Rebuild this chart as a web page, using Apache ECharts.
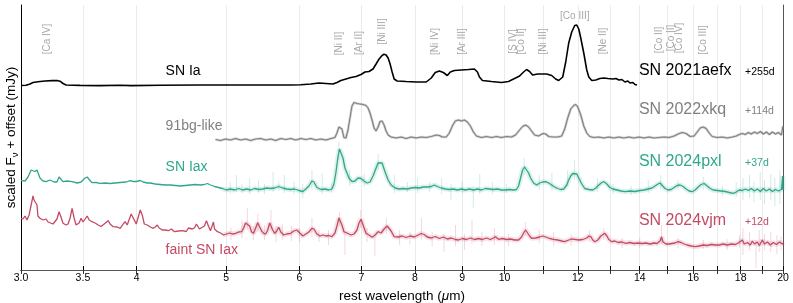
<!DOCTYPE html>
<html><head><meta charset="utf-8">
<script src="https://cdn.jsdelivr.net/npm/echarts@6/dist/echarts.min.js"></script>
<style>html,body{margin:0;padding:0;background:#fff}#c{width:793px;height:303px}</style>
</head><body><div id="c"></div>
<script>
// ---- axis ticks (µm) ----
const tickValues = [3,3.5,4,5,6,7,8,9,10,11,12,13,14,15,16,17,18,19,20];
const labelValues = [3,3.5,4,5,6,7,8,9,10,12,14,16,18,20];
const labelTexts  = ['3.0','3.5','4','5','6','7','8','9','10','12','14','16','18','20'];

// ---- spectra: [rest wavelength (µm), scaled flux + offset] ----
const sn2021aefx = [[3.000,184.5],[3.038,184.7],[3.068,186],[3.091,187.5],[3.129,188.2],[3.185,189],[3.241,189.4],[3.281,189.5],[3.306,188.8],[3.331,186.5],[3.356,185],[3.475,184.6],[3.653,184.4],[3.840,184.7],[3.947,184.4],[4.243,184.8],[4.689,185],[5.314,185],[5.872,185],[6.021,185.3],[6.174,186],[6.298,187],[6.409,186.5],[6.522,186],[6.588,187.5],[6.653,189.5],[6.737,191],[6.822,192.5],[6.908,193.5],[6.995,195.5],[7.064,198],[7.135,198.5],[7.207,201],[7.262,206],[7.316,211],[7.371,214.5],[7.408,215.7],[7.445,215],[7.483,212],[7.520,206],[7.558,198],[7.596,191],[7.653,189],[7.826,188.5],[8.025,188],[8.228,188],[8.331,192],[8.415,197.5],[8.500,199],[8.585,197.5],[8.671,194.5],[8.736,198],[8.824,199.5],[8.980,200],[9.138,200.5],[9.276,201],[9.346,198],[9.393,193],[9.463,189.5],[9.679,188.5],[9.923,187.5],[10.098,188.5],[10.225,191],[10.380,194],[10.484,198],[10.563,200.5],[10.642,198.5],[10.722,195],[10.857,196],[11.104,196],[11.244,194.5],[11.356,191],[11.442,189.5],[11.557,193],[11.644,208],[11.731,227],[11.819,238],[11.908,244.5],[11.968,245],[12.028,241],[12.088,232],[12.179,217],[12.270,200],[12.332,193],[12.425,189.5],[12.550,190],[12.676,191.5],[12.803,192],[12.932,191.5],[12.996,192.5],[13.094,191],[13.193,191.5],[13.292,190],[13.392,190.5],[13.493,188],[13.594,189],[13.662,187],[13.765,187.5],[13.834,185.5],[13.903,185]];

const sn2022xkq = [[4.869,130.5],[4.930,129.5],[4.992,131],[5.054,130],[5.118,131.5],[5.183,130],[5.248,131],[5.314,129.5],[5.381,131],[5.448,131.5],[5.517,130],[5.586,131],[5.657,129.5],[5.728,131.5],[5.800,130.5],[5.872,131.5],[5.946,130],[6.021,131.5],[6.097,130.5],[6.174,131.5],[6.251,130],[6.330,131],[6.409,130],[6.490,131.5],[6.555,132.5],[6.588,137],[6.621,143],[6.645,144],[6.670,141],[6.703,132.5],[6.737,132],[6.771,140],[6.805,152],[6.839,164],[6.873,167.5],[6.925,166.5],[6.977,166],[7.030,165.5],[7.082,164.5],[7.118,162],[7.153,157],[7.189,150],[7.226,142],[7.262,139],[7.298,143],[7.334,148.5],[7.371,149],[7.408,145],[7.445,139],[7.483,135],[7.539,133],[7.634,132],[7.729,133],[7.826,131.5],[7.925,133],[8.025,132],[8.126,133],[8.228,132.5],[8.331,133.5],[8.436,135],[8.500,134.5],[8.563,133],[8.649,133],[8.714,137],[8.780,144],[8.846,149],[8.912,150],[8.980,149],[9.047,150],[9.115,148],[9.184,144],[9.253,138],[9.323,134],[9.440,132.5],[9.558,133.5],[9.679,132.5],[9.800,133.5],[9.923,132.5],[10.048,133.5],[10.174,133],[10.276,135],[10.380,140],[10.458,143.5],[10.537,145],[10.616,143],[10.695,139],[10.776,135],[10.885,134],[10.994,136.5],[11.077,136],[11.160,133.5],[11.272,133],[11.413,133],[11.528,134],[11.615,141],[11.702,152],[11.790,161],[11.878,164.5],[11.938,165.5],[11.998,163],[12.088,155],[12.179,144],[12.270,137],[12.363,133.5],[12.487,132.5],[12.644,133],[12.803,132],[12.964,133],[13.127,132],[13.292,133],[13.459,132],[13.628,133],[13.799,132],[13.973,133],[14.148,132],[14.326,133],[14.506,132],[14.688,132.5],[14.873,133],[15.060,132.5],[15.250,134],[15.403,136],[15.557,137.5],[15.713,136.5],[15.871,133.5],[16.031,134],[16.152,138],[16.273,142],[16.395,143],[16.518,141.5],[16.643,137],[16.768,133.5],[16.978,132.5],[17.192,133],[17.408,132],[17.627,133],[17.804,134],[17.937,135.5],[18.073,136.5],[18.209,135.5],[18.346,137.5],[18.484,136],[18.623,138],[18.763,136.5],[18.904,138.5],[19.046,136],[19.189,138],[19.334,135.5],[19.479,138],[19.626,136],[19.773,137.5],[19.922,135],[19.975,137],[19.995,144]];

const sn2024pxl = [[3.000,89.3],[3.030,89],[3.053,93],[3.076,100],[3.091,102],[3.106,98.5],[3.122,100],[3.145,92],[3.169,89],[3.193,88.3],[3.225,90],[3.257,88],[3.281,88],[3.298,93],[3.314,91],[3.331,88.3],[3.364,89],[3.407,88.3],[3.450,87],[3.484,88],[3.519,92],[3.537,93],[3.555,90.5],[3.581,87.3],[3.617,87.5],[3.653,86.7],[3.699,87],[3.745,86.5],[3.792,87],[3.840,87.5],[3.898,88],[3.937,89.3],[3.967,88.5],[3.997,88.5],[4.037,89.5],[4.067,88],[4.108,87],[4.139,87],[4.191,86],[4.243,85.5],[4.297,85],[4.351,85],[4.406,84.5],[4.461,84],[4.517,84.5],[4.573,85],[4.631,85.5],[4.654,86.5],[4.689,85],[4.736,85.5],[4.772,86.5],[4.808,85],[4.857,83.5],[4.906,82.5],[4.955,81.5],[5.004,80],[5.054,81],[5.105,80],[5.157,81.5],[5.209,80],[5.261,81],[5.314,80],[5.367,81.5],[5.421,80.5],[5.476,81],[5.531,82],[5.586,81.5],[5.642,82],[5.699,83.5],[5.756,82],[5.814,81],[5.872,80.5],[5.931,81],[5.991,79.5],[6.051,78.5],[6.097,81],[6.143,84],[6.189,89],[6.220,88],[6.267,82.5],[6.330,80.5],[6.393,81],[6.457,80],[6.506,81],[6.539,86],[6.572,98],[6.604,113],[6.629,121],[6.653,120.5],[6.687,112],[6.720,102],[6.754,97],[6.788,92],[6.839,88.3],[6.890,89],[6.942,92],[6.995,91.5],[7.047,89],[7.100,87],[7.153,88],[7.207,94],[7.262,102],[7.298,107],[7.334,108.5],[7.371,107],[7.427,98],[7.483,90],[7.539,85],[7.615,82],[7.691,81],[7.768,81.5],[7.846,81],[7.925,82],[8.005,82.5],[8.085,82],[8.167,83],[8.248,83],[8.331,83.5],[8.394,85],[8.457,83.5],[8.542,82],[8.628,81],[8.714,80.5],[8.802,81],[8.890,80],[8.980,81],[9.070,80],[9.161,81],[9.253,80],[9.346,81],[9.440,80],[9.535,81.5],[9.630,81],[9.727,80.5],[9.825,81],[9.923,80],[10.023,80],[10.123,80.5],[10.225,80],[10.302,80.5],[10.354,84],[10.406,92],[10.458,100],[10.511,103],[10.563,101],[10.616,97],[10.669,92],[10.749,87],[10.830,85],[10.912,87],[10.994,88],[11.077,88.3],[11.160,87],[11.244,85],[11.328,83],[11.413,81.5],[11.499,80.5],[11.586,81],[11.673,85],[11.731,90],[11.790,94],[11.849,96.5],[11.908,97],[11.968,96],[12.028,92],[12.119,86],[12.210,81.5],[12.332,80.5],[12.456,80],[12.550,82],[12.644,85],[12.739,87.5],[12.803,88.3],[12.900,86],[12.996,82.5],[13.094,81],[13.226,80],[13.359,79],[13.493,78.3],[13.662,79],[13.834,78.5],[14.008,79.5],[14.148,80],[14.291,81],[14.434,82],[14.542,84],[14.652,86],[14.726,87],[14.799,85],[14.910,81.5],[15.023,80],[15.136,80.5],[15.250,82.5],[15.364,84.5],[15.480,85],[15.596,83.5],[15.713,81],[15.832,79],[15.951,78.3],[16.071,80],[16.192,83],[16.313,85.5],[16.436,86.5],[16.560,84],[16.685,81.5],[16.810,80],[16.978,79.5],[17.149,79],[17.321,78.5],[17.496,77.5],[17.671,76.7],[17.804,78],[17.937,80],[18.073,79.5],[18.209,81],[18.346,79.5],[18.484,81.5],[18.623,79],[18.763,81],[18.904,78.5],[19.046,81.5],[19.189,79],[19.334,81],[19.479,78.5],[19.626,80.5],[19.773,79],[19.922,80.5],[19.985,94],[19.995,80]];

const sn2024vjm = [[3.000,51.7],[3.015,51],[3.030,54],[3.045,50],[3.061,55],[3.076,57],[3.091,74],[3.099,70],[3.106,68.3],[3.114,71],[3.122,65],[3.129,54],[3.145,51.7],[3.169,50],[3.193,51],[3.209,48],[3.225,47.3],[3.249,46],[3.265,45],[3.281,51],[3.298,58.3],[3.314,53],[3.331,46.7],[3.356,45],[3.373,46],[3.390,52],[3.407,61.7],[3.424,52],[3.441,45],[3.467,47],[3.484,51.7],[3.501,48],[3.519,51],[3.537,54],[3.555,50],[3.581,48.3],[3.608,47],[3.635,45],[3.662,43.5],[3.690,46],[3.708,48],[3.727,49.3],[3.745,46],[3.774,43.3],[3.812,43],[3.840,41.7],[3.869,46],[3.888,48.3],[3.908,45],[3.927,46],[3.947,56],[3.957,57.3],[3.977,50],[3.997,46],[4.017,53],[4.037,60],[4.057,55],[4.078,46],[4.108,45],[4.139,43],[4.170,41.7],[4.191,43],[4.212,45],[4.232,42],[4.264,40],[4.297,40],[4.329,39.3],[4.362,41],[4.395,38.3],[4.439,39],[4.483,39.3],[4.528,38.5],[4.551,42],[4.573,42.7],[4.596,41],[4.620,42],[4.643,46],[4.654,46.7],[4.678,41],[4.701,40],[4.736,44],[4.760,49.3],[4.784,44],[4.808,39.3],[4.832,41],[4.844,48],[4.857,41],[4.893,38.3],[4.930,37],[4.967,35],[5.004,36],[5.042,37],[5.080,36],[5.118,36.7],[5.157,38],[5.196,38.3],[5.222,42],[5.248,47],[5.274,48.3],[5.300,44],[5.327,38],[5.354,36.7],[5.381,42],[5.408,47.3],[5.435,43],[5.462,39],[5.489,36.7],[5.517,36],[5.545,40],[5.572,47],[5.586,48.3],[5.614,40],[5.642,36.7],[5.671,39],[5.699,42.7],[5.728,38],[5.771,35],[5.814,36],[5.872,36.7],[5.917,39],[5.961,40],[6.006,37],[6.051,34],[6.097,36],[6.143,38],[6.189,41.7],[6.220,41],[6.267,36],[6.314,34],[6.361,35],[6.409,34],[6.457,34.5],[6.506,33.3],[6.555,37],[6.588,44],[6.621,52],[6.637,52.7],[6.670,45],[6.703,38.3],[6.754,37],[6.822,35],[6.873,36],[6.925,40],[6.960,47],[6.995,50.7],[7.030,45],[7.082,36.7],[7.135,35],[7.189,32.7],[7.244,35],[7.298,38.3],[7.353,37],[7.408,41],[7.464,44],[7.501,43],[7.539,39],[7.596,33.3],[7.672,33],[7.749,34],[7.826,32.5],[7.905,34],[7.985,33],[8.065,35],[8.126,36.5],[8.187,35.5],[8.248,33],[8.331,32],[8.415,33.5],[8.500,31.5],[8.585,33],[8.671,31],[8.758,32],[8.846,30.5],[8.912,30],[9.002,31.5],[9.093,30.5],[9.184,32],[9.276,30.5],[9.369,31.5],[9.463,30.5],[9.558,32],[9.654,30.5],[9.727,32],[9.776,33.3],[9.849,30.7],[9.948,31.5],[10.048,30.5],[10.149,31],[10.251,30],[10.354,30],[10.432,33],[10.484,37],[10.537,40],[10.589,38],[10.642,34],[10.695,31.7],[10.803,32],[10.912,33],[10.994,34],[11.077,33],[11.188,31.5],[11.300,30.7],[11.413,30],[11.528,29],[11.615,28.3],[11.731,30],[11.819,31],[11.908,30.7],[12.028,30],[12.149,30.5],[12.270,32],[12.332,34],[12.394,33.3],[12.456,30],[12.519,28.3],[12.613,30],[12.708,34],[12.771,36],[12.835,36.7],[12.900,34],[12.964,30.5],[13.061,28.3],[13.160,29],[13.259,27.5],[13.392,28],[13.527,26.7],[13.662,27.5],[13.799,26.5],[13.938,27],[14.078,26.5],[14.219,27],[14.362,26],[14.506,27],[14.616,26.5],[14.726,29],[14.781,33],[14.836,28],[14.948,26],[15.060,26],[15.174,26.5],[15.288,27],[15.403,28.3],[15.519,27.5],[15.635,26],[15.753,25],[15.911,24],[16.071,23.3],[16.232,24],[16.395,25],[16.560,24.5],[16.726,25.5],[16.894,25],[17.063,25],[17.235,26],[17.408,25],[17.583,26],[17.760,25.5],[17.893,27],[17.982,25],[18.073,30],[18.164,26],[18.300,27.5],[18.438,25],[18.530,29],[18.623,26],[18.763,28],[18.857,24.5],[18.998,30],[19.094,26],[19.237,28],[19.382,25],[19.528,27.5],[19.675,25.5],[19.823,28],[19.972,26],[19.995,27]];

// ---- unbinned data excursions: [wavelength, low, high] ----
const pxlSpikes = [[5.05,76,88],[5.13,78,95],[5.20,77,86],[5.30,76,92],[5.42,77,90],[5.50,76,86],[5.62,78,98],[5.70,79,89],[5.78,77,95],[5.92,76,88],[6.05,72,86],[6.19,80,100],[6.35,76,97],[6.50,77,87],[6.62,110,128],[6.80,84,100],[7.05,83,96],[7.30,100,116],[7.60,77,95],[7.85,78,88],[8.05,77,92],[8.30,78,88],[8.55,76,92],[8.75,70,86],[9.00,76,89],[9.25,62,84],[9.40,76,96],[9.70,76,88],[10.05,77,86],[10.50,95,112],[10.90,80,95],[11.25,79,97],[11.70,84,100],[11.90,90,110],[12.60,78,92],[13.10,76,86],[13.70,75,84],[14.30,77,90],[14.75,80,95],[15.40,80,90],[16.40,80,93],[17.20,74,84],[17.80,73,88],[18.10,70,92],[18.40,72,95],[18.60,68,88],[18.90,70,98],[19.10,66,90],[19.40,70,96],[19.60,64,92],[19.85,66,100]];
const vjmSpikes = [[5.06,30,42],[5.20,32,50],[5.27,40,62],[5.35,30,44],[5.41,38,56],[5.50,30,45],[5.59,40,60],[5.66,28,44],[5.75,30,46],[5.88,29,44],[6.00,28,42],[6.19,33,52],[6.30,28,40],[6.45,25,40],[6.63,44,58],[6.72,15,38],[6.99,42,60],[7.10,28,42],[7.24,14,35],[7.45,36,52],[7.70,25,40],[7.90,26,38],[8.13,30,52],[8.35,24,38],[8.60,18,36],[8.85,24,45],[9.05,20,36],[9.22,26,50],[9.45,24,38],[9.75,25,42],[10.10,24,36],[10.53,34,48],[10.90,27,40],[11.30,24,38],[11.80,24,36],[12.35,28,40],[12.80,30,42],[13.40,22,32],[14.00,22,32],[14.78,26,45],[15.40,22,32],[16.40,21,30],[17.40,20,31],[17.95,22,35],[18.10,15,42],[18.40,20,38],[18.70,2,30],[18.85,18,40],[19.10,20,36],[19.40,18,38],[19.70,16,35],[19.90,20,34]];

// ---- line identifications: [wavelength, height, text, rotated] ----
const lineIds = [[3.20,231,'[Ca IV]',1],[6.62,226.5,'[Ni II]',1],[6.96,227,'[Ar II]',1],[7.37,238.5,'[Ni III]',1],[8.41,228.5,'[Ni IV]',1],[9.0,228.5,'[Ar III]',1],[10.33,228.5,'[S IV]\n[Co II]',1],[11.0,228.5,'[Ni III]',1],[11.91,254,'[Co III]',0],[12.8,229,'[Ne II]',1],[14.69,230,'[Co II]',1],[15.3,232,'[Co II]\n[Co IV]',1],[16.4,230,'[Co III]',1]];

// ---- spectrum names ----
const COL = {ia:'#000000', bg:'#808080', iax:'#2fa78b', faint:'#c44a64'};
const classLabels = [[4.30,199,'SN Ia','ia'],[4.30,144,'91bg-like','bg'],[4.30,103,'SN Iax','iax'],[4.30,20,'faint SN Iax','faint']];
const nameLabels  = [[13.97,199.5,'SN 2021aefx','ia'],[13.97,160,'SN 2022xkq','bg'],[13.97,108.5,'SN 2024pxl','iax'],[13.97,49,'SN 2024vjm','faint']];
const epochLabels = [[18.2,198,'+255d','ia'],[18.2,158.5,'+114d','bg'],[18.2,107,'+37d','iax'],[18.2,48,'+12d','faint']];

const FONT = '"Liberation Sans", Arial, Helvetica, sans-serif';
const L = v => Math.log10(v);
const toXY = arr => arr.map(p => [L(p[0]), p[1]]);
const after5 = arr => toXY(arr.filter(p => p[0] >= 4.95));

function spikeSeries(arr, color){
  return {type:'custom', silent:true, clip:true, z:1,
    data: arr.map(p => [L(p[0]), p[1], p[2]]),
    encode:{x:0, y:[1,2]},
    renderItem:(params, api) => {
      const a = api.coord([api.value(0), api.value(1)]);
      const b = api.coord([api.value(0), api.value(2)]);
      return {type:'line', shape:{x1:a[0], y1:a[1], x2:b[0], y2:b[1]}, style:{stroke:color, lineWidth:1}};
    }};
}
function lineSeries(arr, color, width, opacity, z){
  return {type:'line', data: arr, showSymbol:false, symbol:'none', silent:true, z:z,
    lineStyle:{color:color, width:width, opacity:opacity}, emphasis:{disabled:true}, animation:false};
}
function textSeries(items, size){
  return {type:'custom', silent:true, z:10, clip:false,
    data: items.map(t => [L(t[0]), t[1]]),
    renderItem:(params, api) => {
      const t = items[params.dataIndex];
      const p = api.coord([api.value(0), api.value(1)]);
      return {type:'text', x:p[0], y:p[1], style:{text:t[2], fill:COL[t[3]], fontSize:size, fontFamily:FONT, align:'left', verticalAlign:'middle'}};
    }};
}

const axisLabelFmt = v => {
  for (let i = 0; i < labelValues.length; i++) if (Math.abs(L(labelValues[i]) - v) < 1e-6) return labelTexts[i];
  return '';
};

const chart = echarts.init(document.getElementById('c'), null, {renderer:'canvas'});
chart.setOption({
  animation:false,
  backgroundColor:'#ffffff',
  textStyle:{fontFamily:FONT},
  grid:{left:21, right:10, top:5, bottom:33, containLabel:false, outerBoundsMode:'none'},
  xAxis:[{
    type:'value', min:L(3), max:L(20), position:'bottom',
    axisLine:{show:true, lineStyle:{color:'#000', width:1}},
    axisTick:{show:true, inside:true, length:4, customValues:tickValues.map(L), lineStyle:{color:'#000'}},
    axisLabel:{show:true, customValues:labelValues.map(L), formatter:axisLabelFmt, color:'#000', fontSize:10.5, margin:3, fontFamily:FONT},
    splitLine:{show:true, lineStyle:{color:'#ebebeb', width:1}},
    name:'{a|rest wavelength (}{i|μ}{a|m)}', nameLocation:'middle', nameGap:12,
    nameTextStyle:{rich:{a:{fontSize:13.5, color:'#000', fontFamily:FONT}, i:{fontSize:13.5, color:'#000', fontStyle:'italic', fontFamily:FONT}}}
  },{
    type:'value', min:L(3), max:L(20), position:'top',
    axisLine:{show:true, lineStyle:{color:'#555', width:1}},
    axisTick:{show:true, inside:true, length:4, customValues:tickValues.map(L), lineStyle:{color:'#333'}},
    axisLabel:{show:false}, splitLine:{show:false}
  }],
  yAxis:[{
    type:'value', min:0, max:265, position:'left',
    axisLine:{show:true, lineStyle:{color:'#000', width:1}},
    axisTick:{show:false}, axisLabel:{show:false}, splitLine:{show:false},
    name:'{a|scaled F}{s|ν}{a| + offset (mJy)}', nameLocation:'middle', nameGap:1, nameRotate:90,
    nameTextStyle:{rich:{a:{fontSize:13.5, color:'#000', lineHeight:17, verticalAlign:'middle', fontFamily:FONT}, s:{fontSize:9.5, color:'#000', lineHeight:17, verticalAlign:'bottom', fontFamily:FONT}}}
  },{
    type:'value', min:0, max:265, position:'right',
    axisLine:{show:true, lineStyle:{color:'#555', width:1}},
    axisTick:{show:false}, axisLabel:{show:false}, splitLine:{show:false}
  }],
  series:[
    spikeSeries(pxlSpikes, 'rgba(47,167,139,0.22)'),
    spikeSeries(vjmSpikes, 'rgba(196,74,100,0.22)'),
    lineSeries(after5(sn2024pxl), COL.iax, 5, 0.16, 2),
    lineSeries(after5(sn2024vjm), COL.faint, 5, 0.16, 2),
    lineSeries(toXY(sn2022xkq), COL.bg, 2.6, 0.35, 2),
    lineSeries(toXY(sn2024vjm), COL.faint, 1.3, 1, 3),
    lineSeries(toXY(sn2024pxl), COL.iax, 1.3, 1, 3),
    lineSeries(toXY(sn2022xkq), COL.bg, 1.1, 1, 3),
    lineSeries(toXY(sn2021aefx), COL.ia, 1.6, 1, 4),
    {type:'custom', silent:true, z:10, clip:false,
      data: lineIds.map(t => [L(t[0]), t[1]]),
      renderItem:(params, api) => {
        const t = lineIds[params.dataIndex];
        const p = api.coord([api.value(0), api.value(1)]);
        return {type:'text', x:p[0], y:p[1], rotation:t[3] ? Math.PI/2 : 0,
          style:{text:t[2], fill:'#a8a8a8', fontSize:10, lineHeight:8, fontFamily:FONT, align:'center', verticalAlign:'middle'}};
      }},
    textSeries(classLabels, 14),
    textSeries(nameLabels, 16),
    textSeries(epochLabels, 10.5)
  ]
});
</script></body></html>
